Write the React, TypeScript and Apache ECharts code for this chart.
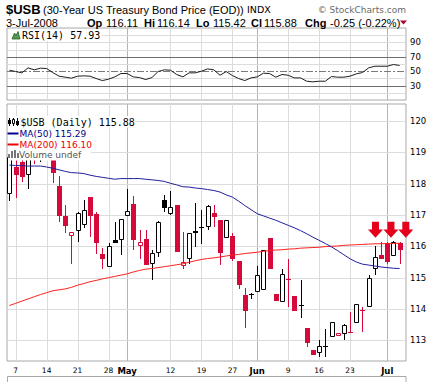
import { useEffect, useRef } from "react";
import * as echarts from "echarts";

// ---------- data ----------
const dates = [
  "2008-04-04", "2008-04-07", "2008-04-08", "2008-04-09", "2008-04-10", "2008-04-11",
  "2008-04-14", "2008-04-15", "2008-04-16", "2008-04-17", "2008-04-18",
  "2008-04-21", "2008-04-22", "2008-04-23", "2008-04-24", "2008-04-25",
  "2008-04-28", "2008-04-29", "2008-04-30", "2008-05-01", "2008-05-02",
  "2008-05-05", "2008-05-06", "2008-05-07", "2008-05-08", "2008-05-09",
  "2008-05-12", "2008-05-13", "2008-05-14", "2008-05-15", "2008-05-16",
  "2008-05-19", "2008-05-20", "2008-05-21", "2008-05-22", "2008-05-23",
  "2008-05-27", "2008-05-28", "2008-05-29", "2008-05-30",
  "2008-06-02", "2008-06-03", "2008-06-04", "2008-06-05", "2008-06-06",
  "2008-06-09", "2008-06-10", "2008-06-11", "2008-06-12", "2008-06-13",
  "2008-06-16", "2008-06-17", "2008-06-18", "2008-06-19", "2008-06-20",
  "2008-06-23", "2008-06-24", "2008-06-25", "2008-06-26", "2008-06-27",
  "2008-06-30", "2008-07-01", "2008-07-02", "2008-07-03",
];

const opens = [
  117.68, 118.53, 118.7, 118.29, 119.1, 118.95, 119.3, 119.0,
  117.92, 116.96, 116.32, 116.49, 116.69, 117.56, 117.02, 115.74,
  115.34, 116.21, 116.21, 116.98, 117.34, 116.02, 116.22, 115.42,
  115.8, 117.47, 117.04, 117.31, 115.36, 115.58, 116.49, 116.58,
  116.6, 117.06, 116.83, 116.28, 116.32, 115.52, 114.43, 114.45,
  114.55, 114.62, 116.28, 114.49, 114.23, 114.95, 114.4, 114.12,
  113.38, 112.7, 112.59, 112.79, 113.12, 113.15, 113.19, 113.26,
  113.55, 113.98, 114.06, 115.29, 115.73, 116.09, 115.69, 116.11,
];
const highs = [
  119.05, 118.95, 118.9, 119.0, 119.3, 119.4, 119.55, 119.2,
  118.24, 117.31, 116.46, 117.08, 117.49, 117.56, 117.1, 115.96,
  116.09, 116.78, 116.88, 117.84, 117.6, 116.53, 116.53, 115.87,
  116.81, 117.65, 117.76, 117.31, 116.46, 116.41, 117.37, 117.15,
  117.31, 117.31, 116.83, 116.85, 116.42, 115.52, 114.68, 114.51,
  115.36, 115.89, 116.28, 114.49, 115.29, 115.61, 114.4, 114.91,
  113.38, 112.7, 113.02, 113.37, 113.58, 113.24, 113.53, 113.9,
  114.15, 114.06, 115.07, 116.0, 116.14, 116.14, 116.16, 116.14,
];
const lows = [
  117.45, 117.54, 118.05, 117.84, 118.64, 118.69, 118.9, 118.02,
  116.78, 116.42, 115.45, 116.14, 116.57, 116.3, 115.74, 115.26,
  115.34, 116.09, 115.71, 116.98, 115.89, 115.58, 115.39, 114.94,
  115.66, 117.1, 116.99, 115.82, 115.29, 115.45, 115.98, 116.08,
  116.51, 116.61, 115.39, 116.28, 115.53, 114.63, 113.4, 114.33,
  114.55, 114.62, 115.26, 114.25, 114.23, 114.06, 113.93, 113.72,
  112.78, 112.52, 112.46, 112.46, 113.12, 113.15, 113.02, 113.23,
  113.55, 113.26, 114.06, 115.07, 115.58, 115.45, 115.69, 115.42,
];
const closes = [
  118.85, 118.27, 118.21, 118.8, 118.78, 119.25, 119.05, 118.34,
  116.96, 116.64, 116.46, 117.06, 117.15, 116.96, 116.11, 115.59,
  116.02, 116.11, 116.88, 117.12, 116.21, 116.13, 115.39, 115.77,
  116.78, 117.22, 117.24, 115.82, 115.5, 116.41, 116.44, 116.62,
  117.28, 116.94, 115.79, 116.85, 115.61, 114.78, 113.93, 114.47,
  115.07, 115.89, 115.26, 114.25, 115.13, 114.92, 113.93, 114.14,
  112.91, 112.52, 112.81, 112.83, 113.58, 113.24, 113.48, 113.23,
  114.15, 113.93, 115.0, 115.66, 115.58, 115.5, 116.13, 115.88,
];
const closeBeforeFirst = 117.6; // first candle is drawn black (up day)

const ma50 = [
  118.59, 118.58, 118.57, 118.56, 118.56, 118.56, 118.53, 118.49,
  118.44, 118.39, 118.35, 118.34, 118.32, 118.27, 118.23, 118.2,
  118.17, 118.14, 118.16, 118.16, 118.16, 118.16, 118.14, 118.12,
  118.1, 118.07, 118.01, 117.96, 117.9, 117.89, 117.86, 117.84,
  117.81, 117.78, 117.73, 117.64, 117.57, 117.44, 117.3, 117.17,
  117.04, 116.97, 116.9, 116.83, 116.75, 116.67, 116.59, 116.5,
  116.4, 116.29, 116.19, 116.09, 115.98, 115.86, 115.73, 115.6,
  115.5, 115.43, 115.4, 115.37, 115.34, 115.32, 115.3, 115.29,
];
const ma200 = [
  114.11, 114.18, 114.25, 114.32, 114.39, 114.46, 114.52, 114.58,
  114.61, 114.64, 114.69, 114.76, 114.81, 114.87, 114.91, 114.96,
  115.0, 115.04, 115.08, 115.12, 115.18, 115.23, 115.27, 115.29,
  115.32, 115.35, 115.38, 115.41, 115.44, 115.49, 115.54, 115.58,
  115.61, 115.63, 115.66, 115.69, 115.72, 115.74, 115.77, 115.79,
  115.81, 115.84, 115.86, 115.88, 115.89, 115.91, 115.92, 115.94,
  115.95, 115.96, 115.97, 115.99, 116.0, 116.01, 116.03, 116.04,
  116.05, 116.06, 116.07, 116.08, 116.08, 116.09, 116.09, 116.1,
];
const rsi = [
  51.4, 49.5, 47.7, 54.6, 51.9, 54.2, 53.7, 48.1,
  43.1, 41.7, 40.3, 43.1, 43.5, 43.1, 39.8, 37.0,
  38.9, 42.1, 46.8, 46.8, 42.1, 41.2, 38.4, 41.2,
  49.5, 51.9, 51.4, 45.4, 42.1, 47.7, 47.7, 50.0,
  53.2, 51.9, 44.4, 49.5, 44.0, 39.8, 37.0, 40.7,
  42.1, 47.2, 46.8, 41.7, 45.4, 44.4, 40.7, 40.7,
  36.1, 35.2, 36.1, 36.1, 42.6, 41.7, 41.7, 43.1,
  46.3, 48.1, 54.6, 56.9, 56.9, 56.9, 59.3, 57.93,
];

// x-axis tick positions (trading-day index) and their labels
const xTickIdx = [1, 6, 11, 16, 19, 26, 31, 36, 40, 45, 50, 55, 61];
const xTickLabels = ["7", "14", "21", "28", "May", "12", "19", "27", "Jun", "9", "16", "23", "Jul"];
const monthIdx = [19, 40, 61];

const priceTicks = [113, 114, 115, 116, 117, 118, 119, 120];
const rsiTicks = [30, 50, 70, 90];
const rsiLightLines = [20, 40, 60, 80, 90, 100];
const rsiDarkLines = [30, 70];
const rsiMidLine = [50];

// red arrow annotations (day index, price)
const arrowIdx = [59.1, 61.6, 64.0];
const arrowPrice = 116.53;

// ---------- styling ----------
const RED = "#d50a3a";
const BLACK = "#000000";
const GRID_LIGHT = "#dcdcdc";
const GRID_MONTH = "#b4b4b4";
const BORDER = "#a8a8a8";
const X_MIN = -0.4;
const X_MAX = 64.03;
const ARROW_PATH = "path://M4,0 L11,0 L11,7.5 L15,7.5 L7.5,15.5 L0,7.5 L4,7.5 Z";

const renderCandle = (params: any, api: any) => {
  const i = api.value(0);
  const o = api.value(1);
  const c = api.value(2);
  const l = api.value(3);
  const h = api.value(4);
  const pc = api.value(5);
  const color = c >= pc ? BLACK : RED;
  const hollow = c >= o;
  const pO = api.coord([i, o]);
  const pC = api.coord([i, c]);
  const pH = api.coord([i, h]);
  const pL = api.coord([i, l]);
  const px = Math.round(pO[0]);
  const cx = px + 0.5;
  const top = Math.round(Math.min(pO[1], pC[1]));
  const bot = Math.round(Math.max(pO[1], pC[1]));
  const children: any[] = [
    {
      type: "line",
      shape: { x1: cx, y1: Math.round(pH[1]), x2: cx, y2: Math.round(pL[1]) },
      style: { stroke: color, lineWidth: 1 },
    },
  ];
  if (bot - top < 2) {
    children.push({
      type: "rect",
      shape: { x: px - 2, y: top, width: 5, height: Math.max(bot - top, 1) },
      style: { fill: color },
    });
  } else if (hollow) {
    children.push({
      type: "rect",
      shape: { x: px - 2 + 0.5, y: top + 0.5, width: 4, height: bot - top - 1 },
      style: { fill: "#ffffff", stroke: color, lineWidth: 1 },
    });
  } else {
    children.push({
      type: "rect",
      shape: { x: px - 2, y: top, width: 5, height: bot - top },
      style: { fill: color },
    });
  }
  return { type: "group", children };
};

const renderVLine = (params: any, api: any) => {
  const cs = params.coordSys;
  const x = Math.round(api.coord([api.value(0), api.value(1)])[0]) + 0.5;
  return {
    type: "line",
    silent: true,
    shape: { x1: x, y1: cs.y, x2: x, y2: cs.y + cs.height },
    style: { stroke: api.value(2) ? GRID_MONTH : GRID_LIGHT, lineWidth: 1 },
  };
};

const renderHLine = (params: any, api: any) => {
  const cs = params.coordSys;
  const y = Math.round(api.coord([0, api.value(1)])[1]) + 0.5;
  const kind = api.value(2);
  const style: any = { stroke: GRID_LIGHT, lineWidth: 1 };
  if (kind === 1) style.stroke = "#6e6e6e";
  if (kind === 2) {
    style.stroke = "#7a7a7a";
    style.lineDash = [7, 2, 2, 2];
  }
  return {
    type: "line",
    silent: true,
    shape: { x1: cs.x, y1: y, x2: cs.x + cs.width, y2: y },
    style,
  };
};

const SANS = "DejaVu Sans";
const ARIAL = "Liberation Sans";

function buildOption() {
  const candleData = opens.map((o, i) => [
    i,
    o,
    closes[i],
    lows[i],
    highs[i],
    i > 0 ? closes[i - 1] : closeBeforeFirst,
  ]);

  const headerTexts: any[] = [
    { t: "$USB", x: 6, y: 9, f: `bold 13px ${ARIAL}` },
    { t: "(30-Year US Treasury Bond Price (EOD))", x: 43, y: 9.5, f: `11px ${ARIAL}` },
    { t: "INDX", x: 247, y: 9.5, f: `9.5px ${SANS}` },
    { t: "3-Jul-2008", x: 6, y: 22.5, f: `11px ${ARIAL}` },
    { t: "Op", x: 87, y: 22.5, f: `bold 11px ${ARIAL}` },
    { t: "116.11", x: 106, y: 22.5, f: `11px ${ARIAL}` },
    { t: "Hi", x: 144, y: 22.5, f: `bold 11px ${ARIAL}` },
    { t: "116.14", x: 157, y: 22.5, f: `11px ${ARIAL}` },
    { t: "Lo", x: 196, y: 22.5, f: `bold 11px ${ARIAL}` },
    { t: "115.42", x: 213, y: 22.5, f: `11px ${ARIAL}` },
    { t: "Cl", x: 251, y: 22.5, f: `bold 11px ${ARIAL}` },
    { t: "115.88", x: 264, y: 22.5, f: `11px ${ARIAL}` },
    { t: "Chg", x: 305, y: 22.5, f: `bold 11px ${ARIAL}` },
    { t: "-0.25 (-0.22%)", x: 330, y: 22.5, f: `11px ${ARIAL}` },
  ];

  const graphics: any[] = headerTexts.map((h) => ({
    type: "text",
    x: h.x,
    y: h.y,
    z: 100,
    silent: true,
    style: { text: h.t, font: h.f, fill: "#000", verticalAlign: "middle" },
  }));

  graphics.push(
    {
      type: "text",
      x: 406,
      y: 9.5,
      z: 100,
      silent: true,
      style: { text: "© StockCharts.com", font: `9px ${SANS}`, fill: "#6a6a6a", align: "right", verticalAlign: "middle" },
    },
    {
      type: "polygon",
      z: 100,
      silent: true,
      shape: { points: [[400, 20.5], [407, 20.5], [403.5, 24.5]] },
      style: { fill: "#b3002d" },
    },
    // RSI legend
    {
      type: "rect",
      z: 99,
      silent: true,
      shape: { x: 8, y: 29, width: 94, height: 12 },
      style: { fill: "#fff" },
    },
    {
      type: "polygon",
      z: 100,
      silent: true,
      shape: { points: [[12, 39], [14.5, 33], [16, 35.5], [18, 31.5], [20, 39]] },
      style: { fill: "#4f9a4f", stroke: "#2b5e2b", lineWidth: 0.8 },
    },
    {
      type: "text",
      x: 22,
      y: 35,
      z: 100,
      silent: true,
      style: { text: "RSI(14) 57.93", font: `10px "DejaVu Sans Mono"`, fill: "#000", verticalAlign: "middle" },
    },
    // main legend backgrounds
    {
      type: "rect",
      z: 99,
      silent: true,
      shape: { x: 8, y: 116, width: 127, height: 11.5 },
      style: { fill: "#fff" },
    },
    {
      type: "rect",
      z: 99,
      silent: true,
      shape: { x: 8, y: 127, width: 83, height: 33.5 },
      style: { fill: "#fff" },
    },
    // candle icon
    { type: "line", z: 100, silent: true, shape: { x1: 9.5, y1: 118, x2: 9.5, y2: 126 }, style: { stroke: "#000", lineWidth: 1 } },
    { type: "rect", z: 100, silent: true, shape: { x: 8, y: 120, width: 3, height: 4 }, style: { fill: "#000" } },
    { type: "line", z: 100, silent: true, shape: { x1: 13.5, y1: 118, x2: 13.5, y2: 126 }, style: { stroke: "#000", lineWidth: 1 } },
    { type: "rect", z: 100, silent: true, shape: { x: 12.5, y: 119.5, width: 2, height: 4 }, style: { fill: "#fff", stroke: "#000", lineWidth: 1 } },
    { type: "line", z: 100, silent: true, shape: { x1: 17.5, y1: 118, x2: 17.5, y2: 126 }, style: { stroke: "#000", lineWidth: 1 } },
    { type: "rect", z: 100, silent: true, shape: { x: 16, y: 121, width: 3, height: 4 }, style: { fill: "#000" } },
    {
      type: "text",
      x: 20.5,
      y: 122,
      z: 100,
      silent: true,
      style: { text: "$USB (Daily) 115.88", font: `10px "DejaVu Sans Mono"`, fill: "#000", verticalAlign: "middle" },
    },
    { type: "rect", z: 100, silent: true, shape: { x: 7.5, y: 132.5, width: 11, height: 2 }, style: { fill: "#000088" } },
    {
      type: "text",
      x: 19.5,
      y: 133.5,
      z: 100,
      silent: true,
      style: { text: "MA(50) 115.29", font: `9px ${SANS}`, fill: "#000088", verticalAlign: "middle" },
    },
    { type: "rect", z: 100, silent: true, shape: { x: 7.5, y: 143.5, width: 11, height: 2 }, style: { fill: "#ee0000" } },
    {
      type: "text",
      x: 19.5,
      y: 144.5,
      z: 100,
      silent: true,
      style: { text: "MA(200) 116.10", font: `9px ${SANS}`, fill: "#ee0000", verticalAlign: "middle" },
    },
    { type: "rect", z: 100, silent: true, shape: { x: 8, y: 154, width: 2, height: 4 }, style: { fill: "#777" } },
    { type: "rect", z: 100, silent: true, shape: { x: 11, y: 151, width: 2, height: 7 }, style: { fill: "#777" } },
    { type: "rect", z: 100, silent: true, shape: { x: 14, y: 150, width: 2, height: 8 }, style: { fill: "#777" } },
    { type: "rect", z: 100, silent: true, shape: { x: 17, y: 153, width: 2, height: 5 }, style: { fill: "#777" } },
    {
      type: "text",
      x: 19,
      y: 155,
      z: 100,
      silent: true,
      style: { text: "Volume undef", font: `9px ${SANS}`, fill: "#555", verticalAlign: "middle" },
    },
    // lower panel frame (cut off at page bottom)
    {
      type: "rect",
      z: 100,
      silent: true,
      shape: { x: 7.5, y: 376.5, width: 398.5, height: 20 },
      style: { fill: "none", stroke: BORDER, lineWidth: 1 },
    }
  );

  const xAxisCommon = {
    type: "value",
    min: X_MIN,
    max: X_MAX,
    axisLine: { show: false },
    axisTick: { show: false },
    splitLine: { show: false },
  };
  const yLabel = { fontSize: 8.5, fontFamily: SANS, color: "#000", margin: 4 };

  return {
    animation: false,
    backgroundColor: "#ffffff",
    graphic: graphics,
    grid: [
      { left: 7, top: 28, width: 399, height: 72, show: true, borderColor: BORDER, borderWidth: 1, backgroundColor: "transparent" },
      { left: 7, top: 104, width: 399, height: 257, show: true, borderColor: BORDER, borderWidth: 1, backgroundColor: "transparent" },
    ],
    xAxis: [
      { ...xAxisCommon, gridIndex: 0, axisLabel: { show: false } },
      {
        ...xAxisCommon,
        gridIndex: 1,
        axisLabel: {
          customValues: xTickIdx,
          fontSize: 7.5,
          fontFamily: SANS,
          color: "#000",
          margin: 5,
          formatter: (v: number) => {
            const k = xTickIdx.indexOf(Math.round(v));
            if (k < 0) return "";
            const lab = xTickLabels[k];
            return monthIdx.includes(xTickIdx[k]) ? `{m|${lab}}` : lab;
          },
          rich: { m: { fontWeight: "bold", fontSize: 8.5, fontFamily: SANS, color: "#000" } },
        },
      },
    ],
    yAxis: [
      {
        type: "value",
        gridIndex: 0,
        position: "right",
        min: 10,
        max: 110,
        axisLine: { show: false },
        axisTick: { show: false },
        splitLine: { show: false },
        axisLabel: { ...yLabel, customValues: rsiTicks },
      },
      {
        type: "value",
        gridIndex: 1,
        position: "right",
        min: 112.34,
        max: 120.54,
        axisLine: { show: false },
        axisTick: { show: false },
        splitLine: { show: false },
        axisLabel: { ...yLabel, customValues: priceTicks },
      },
    ],
    series: [
      {
        type: "custom",
        name: "rsi-vgrid",
        xAxisIndex: 0,
        yAxisIndex: 0,
        z: 1,
        silent: true,
        renderItem: renderVLine,
        encode: { x: 0, y: 1 },
        data: xTickIdx.map((i) => [i, 50, monthIdx.includes(i) ? 1 : 0]),
      },
      {
        type: "custom",
        name: "rsi-hgrid",
        xAxisIndex: 0,
        yAxisIndex: 0,
        z: 1,
        silent: true,
        renderItem: renderHLine,
        encode: { x: 0, y: 1 },
        data: [
          ...rsiLightLines.map((v) => [0, v, 0]),
          ...rsiDarkLines.map((v) => [0, v, 1]),
          ...rsiMidLine.map((v) => [0, v, 2]),
        ],
      },
      {
        type: "custom",
        name: "main-vgrid",
        xAxisIndex: 1,
        yAxisIndex: 1,
        z: 1,
        silent: true,
        renderItem: renderVLine,
        encode: { x: 0, y: 1 },
        data: xTickIdx.map((i) => [i, 116, monthIdx.includes(i) ? 1 : 0]),
      },
      {
        type: "custom",
        name: "main-hgrid",
        xAxisIndex: 1,
        yAxisIndex: 1,
        z: 1,
        silent: true,
        renderItem: renderHLine,
        encode: { x: 0, y: 1 },
        data: priceTicks.map((v) => [0, v, 0]),
      },
      {
        type: "line",
        name: "RSI(14)",
        xAxisIndex: 0,
        yAxisIndex: 0,
        z: 4,
        symbol: "none",
        silent: true,
        lineStyle: { color: "#1e1e1e", width: 1 },
        data: rsi.map((v, i) => [i, v]),
      },
      {
        type: "custom",
        name: "$USB",
        xAxisIndex: 1,
        yAxisIndex: 1,
        z: 3,
        clip: true,
        silent: true,
        renderItem: renderCandle,
        encode: { x: 0, y: [1, 2, 3, 4] },
        dimensions: ["idx", "open", "close", "low", "high", "prevClose"],
        data: candleData,
      },
      {
        type: "line",
        name: "MA(200)",
        xAxisIndex: 1,
        yAxisIndex: 1,
        z: 4,
        symbol: "none",
        silent: true,
        lineStyle: { color: "#ff1f1f", width: 1 },
        data: ma200.map((v, i) => [i, v]),
      },
      {
        type: "line",
        name: "MA(50)",
        xAxisIndex: 1,
        yAxisIndex: 1,
        z: 4,
        symbol: "none",
        silent: true,
        lineStyle: { color: "#1f1f9e", width: 1 },
        data: ma50.map((v, i) => [i, v]),
        markPoint: {
          silent: true,
          symbol: ARROW_PATH,
          symbolSize: [15, 16],
          symbolKeepAspect: false,
          itemStyle: { color: "#e5001c" },
          label: { show: false },
          data: arrowIdx.map((x) => ({ coord: [x, arrowPrice] })),
        },
      },
    ],
  };
}

export default function App() {
  const ref = useRef<HTMLDivElement>(null);
  useEffect(() => {
    if (!ref.current) return;
    const chart = echarts.init(ref.current, undefined, { renderer: "svg" });
    chart.setOption(buildOption() as any);
    return () => chart.dispose();
  }, []);
  return (
    <div
      ref={ref}
      data-dates={dates.length}
      style={{ position: "fixed", left: 0, top: 0, width: 434, height: 382, background: "#fff" }}
    />
  );
}
